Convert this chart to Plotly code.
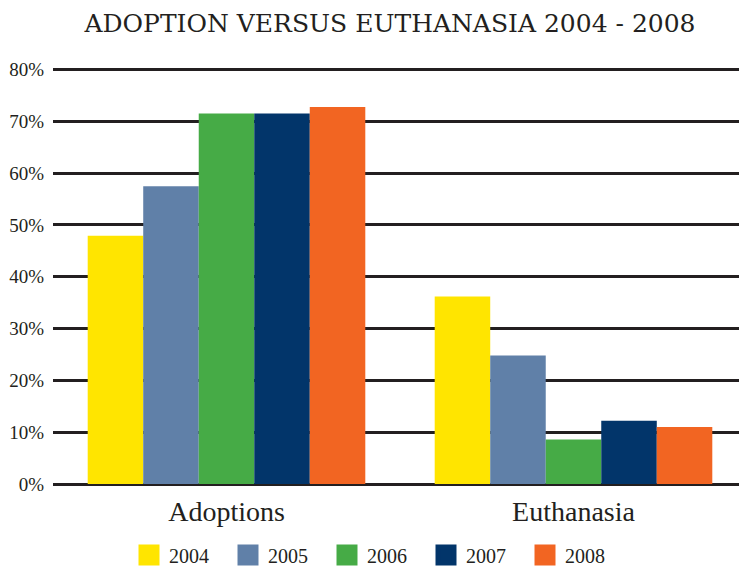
import plotly.graph_objects as go

categories = ["Adoptions", "Euthanasia"]
years = ["2004", "2005", "2006", "2007", "2008"]
values = {
    "2004": [47.9, 36.2],
    "2005": [57.5, 24.8],
    "2006": [71.5, 8.6],
    "2007": [71.5, 12.2],
    "2008": [72.8, 11.0],
}
colors = {
    "2004": "#FFE500",
    "2005": "#6080A8",
    "2006": "#46AB46",
    "2007": "#02356A",
    "2008": "#F26522",
}
y_ticks = [0, 10, 20, 30, 40, 50, 60, 70, 80]
y_ticktext = [f"{v}%" for v in y_ticks]

INK = "#231f20"
SERIF = "Liberation Serif"
W, H = 747, 569
OFF = 8  # page body margin offset

fig = go.Figure()
for yr in years:
    fig.add_trace(go.Bar(
        x=categories, y=values[yr], name=yr,
        marker=dict(color=colors[yr], line=dict(width=0)),
        showlegend=False, legendgroup=yr,
    ))
# legend entries (larger square swatches)
for yr in years:
    fig.add_trace(go.Scatter(
        x=[None], y=[None], name=yr, mode="markers",
        marker=dict(symbol="square", size=16, color=colors[yr],
                    line=dict(color=colors[yr], width=5)),
        legendgroup=yr, showlegend=True,
    ))

fig.update_layout(
    width=W, height=H,
    paper_bgcolor="white", plot_bgcolor="white",
    margin=dict(l=53 - OFF, r=OFF, t=67 - OFF, b=H - (484 - OFF), autoexpand=False),
    barmode="group", bargap=0.2, bargroupgap=0,
    title=dict(text="ADOPTION VERSUS EUTHANASIA 2004 - 2008",
               font=dict(family="DejaVu Serif", size=25, color=INK),
               x=(390 - OFF) / W, xanchor="center", xref="container",
               y=1 - (23 - OFF) / H, yanchor="middle", yref="container"),
    legend=dict(orientation="h", x=121 / W, xanchor="left", xref="container",
                y=1 - (555 - OFF) / H, yanchor="middle", yref="container",
                font=dict(family=SERIF, size=20, color=INK),
                entrywidth=54, entrywidthmode="pixels",
                traceorder="normal"),
    font=dict(family=SERIF, color=INK),
)
fig.update_xaxes(
    range=[-0.5, 1.5], showgrid=False, showline=False, zeroline=False,
    tickfont=dict(family=SERIF, size=28, color=INK), ticks="",
    ticklabelstandoff=8, automargin=False,
)
fig.update_yaxes(
    range=[0, 80.5], tickvals=y_ticks, ticktext=y_ticktext,
    showgrid=True, gridcolor=INK, gridwidth=2.5,
    zeroline=True, zerolinecolor=INK, zerolinewidth=3,
    showline=False, ticks="", ticklabelstandoff=8,
    tickfont=dict(family=SERIF, size=19, color=INK),
    automargin=False,
)

fig.write_html("out.html")
